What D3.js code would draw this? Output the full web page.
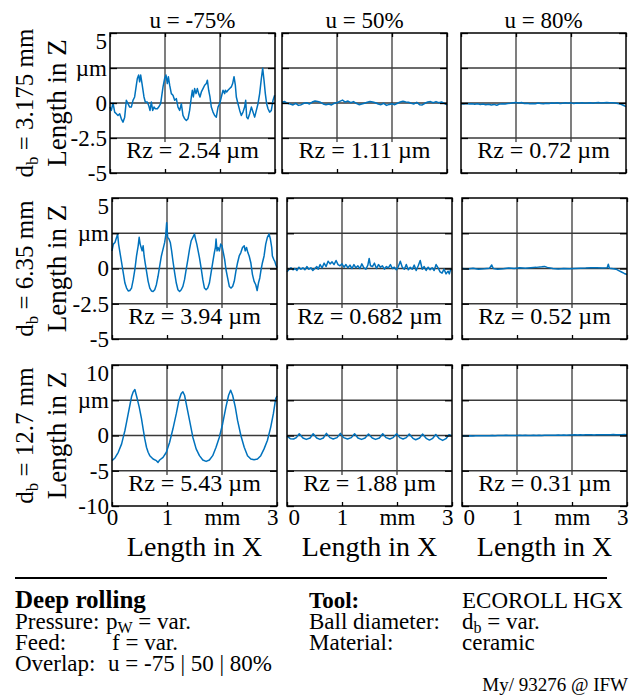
<!DOCTYPE html>
<html>
<head>
<meta charset="utf-8">
<script src="https://cdn.jsdelivr.net/npm/d3@7"></script>
<style>
  html, body { margin: 0; padding: 0; background: #fff; }
  svg { display: block; }
  svg text { font-family: "Liberation Serif", "Times New Roman", serif; }
</style>
</head>
<body>
<svg id="chart" width="637" height="695" font-family="Liberation Serif, Times New Roman, serif"></svg>
<script>
// ---- categories and axis settings ----
const overlapTitles = ["u = -75%", "u = 50%", "u = 80%"];
const ballDiameters = ["3.175", "6.35", "12.7"];
const rzLabels = [
  ["2.54", "1.11", "0.72"],
  ["3.94", "0.682", "0.52"],
  ["5.43", "1.88", "0.31"]
];
const yDomains = [[-5, 5], [-5, 5], [-10, 10]];
const yTickValues = [[-5, -2.5, 0, 2.5, 5], [-5, -2.5, 0, 2.5, 5], [-10, -5, 0, 5, 10]];
const yTickLabels = [["-5", "-2.5", "0", "µm", "5"], ["-5", "-2.5", "0", "µm", "5"], ["-10", "-5", "0", "µm", "10"]];
const xTickValues = [0, 1, 2, 3];
const xTickLabels = ["0", "1", "mm", "3"];

// shared sampling positions (mm) for the evenly sampled flat profiles
const sampleX = [0,0.05,0.1,0.15,0.2,0.25,0.3,0.35,0.4,0.45,0.5,0.55,0.6,0.65,0.7,0.75,0.8,0.85,0.9,0.95,
  1,1.05,1.1,1.15,1.2,1.25,1.3,1.35,1.4,1.45,1.5,1.55,1.6,1.65,1.7,1.75,1.8,1.85,1.9,1.95,
  2,2.05,2.1,2.15,2.2,2.25,2.3,2.35,2.4,2.45,2.5,2.55,2.6,2.65,2.7,2.75,2.8,2.85,2.9,2.95,3];

// ---- surface profiles [x in mm, z in µm] ----
const profileD3175U75 = [[0,-0.29],[0.024,-0.53],[0.055,0],[0.085,-0.65],[0.115,-0.77],[0.145,-0.89],[0.176,-0.77],[0.206,-1.13],[0.236,-1.37],[0.267,-1.01],[0.297,0.19],[0.327,-0.05],[0.358,-0.29],[0.388,-0.29],[0.418,0.19],[0.448,0.43],[0.479,1.27],[0.497,1.75],[0.521,2.0],[0.539,1.51],[0.558,2.0],[0.582,1.39],[0.618,0.43],[0.642,0.07],[0.679,0.07],[0.703,-0.17],[0.727,-0.53],[0.752,0.07],[0.776,-0.53],[0.8,-0.29],[0.824,-0.41],[0.861,-0.41],[0.885,-0.29],[0.921,-0.05],[0.964,1.15],[0.994,1.75],[1.018,2.0],[1.042,1.39],[1.061,1.88],[1.085,1.27],[1.115,0.67],[1.145,0.55],[1.176,0.19],[1.206,0.31],[1.236,-0.29],[1.267,-0.53],[1.297,-0.05],[1.327,-0.89],[1.358,-1.13],[1.388,-1.25],[1.418,-1.13],[1.448,-0.53],[1.479,0.43],[1.497,0.91],[1.515,0.43],[1.539,1.03],[1.564,0.67],[1.588,1.03],[1.612,0.67],[1.636,0.43],[1.661,0.79],[1.691,1.03],[1.721,1.27],[1.752,1.39],[1.77,1.63],[1.794,0.91],[1.818,0.43],[1.842,-0.29],[1.873,-0.65],[1.903,-0.89],[1.933,-1.01],[1.964,-0.29],[1.994,-0.05],[2.024,0.43],[2.055,0.91],[2.085,0.67],[2.097,0.91],[2.121,0.79],[2.145,0.91],[2.176,1.03],[2.206,1.15],[2.23,1.39],[2.255,1.88],[2.279,1.27],[2.297,0.43],[2.327,-0.05],[2.358,-0.53],[2.388,-0.89],[2.418,-0.65],[2.448,-0.29],[2.467,0.19],[2.485,-1.01],[2.509,-1.13],[2.539,-0.77],[2.57,-0.29],[2.6,-0.65],[2.63,-1.01],[2.661,-0.53],[2.691,-0.05],[2.721,0.67],[2.752,1.75],[2.776,2.48],[2.8,1.63],[2.824,0.67],[2.848,-0.05],[2.873,-0.41],[2.903,-0.65],[2.933,-0.53],[2.964,0.19],[2.994,0.55]];

const zD3175U50 = [0.05,0.10,-0.02,-0.07,-0.14,-0.02,-0.17,-0.12,-0.02,0.02,-0.07,0.07,0.14,0.10,0.05,-0.07,-0.12,-0.07,-0.14,-0.02,
  0.02,0.12,0.21,0.07,0.14,0.02,0.10,-0.02,-0.12,-0.07,-0.02,0.05,0.10,0.07,0.02,-0.07,-0.12,-0.02,-0.17,-0.10,
  -0.05,-0.12,-0.02,0.07,0.12,0.07,0.05,-0.02,-0.07,0.05,-0.12,-0.14,-0.02,0.07,0.10,0.02,0.10,0.02,0.07,-0.02,-0.14];

const zD3175U80 = [-0.05,-0.08,-0.04,-0.07,-0.05,-0.09,-0.06,-0.1,-0.07,-0.12,-0.09,-0.14,-0.1,-0.16,-0.08,-0.05,-0.07,-0.03,-0.02,0.02,
  0.03,0,0.03,-0.04,-0.02,-0.06,-0.03,-0.05,0,-0.03,-0.06,-0.02,-0.04,0,-0.02,0.02,-0.03,-0.01,0.01,-0.02,
  0.01,-0.03,0,-0.02,0.01,-0.02,0,0.02,-0.01,0.01,0.03,0,0.02,0.03,0.01,0.02,0,-0.03,-0.08,-0.16,-0.26];

const profileD635U75 = [[0,1.25],[0.024,1.73],[0.054,1.85],[0.084,2.21],[0.102,2.45],[0.12,1.73],[0.145,1.13],[0.175,0.41],[0.205,-0.31],[0.235,-1.03],[0.265,-1.39],[0.295,-1.59],[0.325,-1.56],[0.355,-1.39],[0.386,-0.79],[0.416,-0.07],[0.446,0.89],[0.476,1.61],[0.494,2.21],[0.512,1.73],[0.53,1.49],[0.548,1.25],[0.566,1.61],[0.584,0.89],[0.602,0.41],[0.627,-0.19],[0.657,-0.91],[0.687,-1.39],[0.717,-1.59],[0.747,-1.63],[0.777,-1.51],[0.807,-1.15],[0.837,-0.55],[0.867,0.17],[0.898,0.89],[0.928,1.37],[0.958,1.85],[0.976,2.33],[0.994,3.25],[1.012,2.21],[1.036,2.09],[1.06,1.85],[1.084,1.25],[1.108,0.53],[1.139,-0.31],[1.169,-1.03],[1.199,-1.51],[1.229,-1.63],[1.259,-1.51],[1.289,-1.27],[1.319,-0.79],[1.349,-0.07],[1.38,0.65],[1.41,1.37],[1.44,1.97],[1.47,2.21],[1.5,2.45],[1.518,2.09],[1.542,1.73],[1.566,1.25],[1.59,0.77],[1.62,0.05],[1.651,-0.79],[1.681,-1.39],[1.711,-1.51],[1.741,-1.39],[1.771,-1.03],[1.801,-0.31],[1.831,0.41],[1.861,1.13],[1.88,1.49],[1.892,2.09],[1.91,1.25],[1.928,1.49],[1.952,1.25],[1.976,1.73],[2.0,1.61],[2.024,1.13],[2.048,0.65],[2.072,-0.07],[2.102,-0.67],[2.133,-1.27],[2.163,-1.39],[2.193,-1.27],[2.223,-0.91],[2.253,-0.19],[2.283,0.41],[2.313,0.89],[2.343,1.13],[2.373,1.49],[2.404,1.61],[2.422,1.25],[2.446,1.49],[2.47,1.13],[2.494,0.89],[2.524,0.41],[2.554,-0.43],[2.584,-0.91],[2.614,-1.15],[2.639,-1.56],[2.663,-1.03],[2.687,-0.67],[2.711,-0.07],[2.735,0.41],[2.765,0.89],[2.795,1.73],[2.825,2.21],[2.855,2.45],[2.88,2.09],[2.904,1.49],[2.916,0.89],[2.94,0.65],[2.958,0.53],[2.976,0.29],[3.0,0.05]];

const profileD635U50 = [[0,-0.24],[0.036,-0.07],[0.072,0.05],[0.108,-0.09],[0.145,0],[0.181,-0.14],[0.217,0.09],[0.253,-0.05],[0.289,0.05],[0.325,-0.09],[0.361,0.14],[0.398,-0.05],[0.434,0.05],[0.47,-0.14],[0.506,0],[0.542,0.14],[0.566,-0.05],[0.602,0.28],[0.639,0.05],[0.675,0.38],[0.711,0.14],[0.747,0.52],[0.783,0.33],[0.819,0.47],[0.855,0.28],[0.892,0.57],[0.928,0.28],[0.964,0.19],[1.0,0.33],[1.036,0.09],[1.072,0.28],[1.108,0.05],[1.145,0.24],[1.181,0],[1.217,0.28],[1.253,0.05],[1.289,0.19],[1.325,0],[1.361,0.33],[1.398,0.05],[1.434,-0.05],[1.47,0.24],[1.494,0.71],[1.518,0.19],[1.554,0.14],[1.59,0.38],[1.627,0],[1.663,0.28],[1.699,0.09],[1.735,0.19],[1.771,-0.05],[1.807,0.14],[1.843,0.05],[1.88,0.28],[1.916,0],[1.952,0.09],[1.988,-0.09],[2.024,0.14],[2.06,0.52],[2.096,0.09],[2.133,-0.05],[2.169,0.28],[2.205,-0.09],[2.241,0.09],[2.277,-0.05],[2.313,0.24],[2.349,-0.14],[2.386,0.19],[2.422,0.57],[2.458,-0.05],[2.494,0.14],[2.53,-0.14],[2.566,0.09],[2.602,-0.09],[2.639,0.05],[2.675,-0.14],[2.711,0.28],[2.747,0.05],[2.783,-0.24],[2.819,-0.33],[2.855,-0.05],[2.892,-0.38],[2.928,-0.19],[2.952,-0.38],[2.976,-0.05],[3.0,-0.1]];

const profileD635U80 = [[0,0],[0.1,-0.03],[0.2,0.02],[0.3,-0.05],[0.4,-0.02],[0.5,0.02],[0.54,0.25],[0.57,0],[0.65,-0.05],[0.75,-0.02],[0.85,0.03],[0.95,0],[1.05,0.05],[1.15,0.02],[1.25,0.05],[1.35,0.08],[1.45,0.12],[1.5,0.15],[1.55,0.08],[1.65,0],[1.75,-0.03],[1.85,0],[1.95,-0.02],[2.05,0],[2.15,0.02],[2.25,0.03],[2.35,0.05],[2.45,0.05],[2.55,0.04],[2.64,0.06],[2.66,0.3],[2.68,0.02],[2.75,-0.02],[2.8,-0.05],[2.85,-0.15],[2.9,-0.25],[2.95,-0.35],[3.0,-0.42]];

const profileD127U75 = [[0,-3.57],[0.054,-3.19],[0.114,-2.38],[0.175,-1.19],[0.205,-0.24],[0.235,0.71],[0.265,1.9],[0.295,3.1],[0.325,4.29],[0.355,5.48],[0.386,6.19],[0.416,6.52],[0.434,5.95],[0.458,5.24],[0.494,4.05],[0.536,2.38],[0.566,0.95],[0.596,-0.48],[0.627,-1.67],[0.657,-2.38],[0.687,-2.86],[0.747,-3.33],[0.807,-3.57],[0.837,-3.81],[0.867,-3.48],[0.928,-3.1],[0.988,-2.38],[1.048,-0.95],[1.108,0.95],[1.169,3.1],[1.217,5.0],[1.259,5.95],[1.289,6.19],[1.319,5.71],[1.361,4.05],[1.41,2.14],[1.47,-0.24],[1.53,-1.9],[1.59,-2.86],[1.651,-3.48],[1.711,-3.67],[1.771,-3.48],[1.831,-2.86],[1.892,-1.67],[1.952,-0.24],[2.012,1.67],[2.072,4.05],[2.12,5.71],[2.157,6.43],[2.193,5.71],[2.241,4.05],[2.283,2.14],[2.343,0],[2.404,-1.67],[2.464,-2.86],[2.524,-3.33],[2.584,-3.43],[2.645,-3.33],[2.705,-2.86],[2.765,-1.9],[2.825,-0.71],[2.886,1.19],[2.934,3.1],[2.976,5.24],[3.0,5.6]];

const profileD127U50 = [[0,-0.1],[0.06,-0.45],[0.12,-0.5],[0.17,-0.3],[0.223,0.25],[0.29,-0.35],[0.35,-0.55],[0.42,-0.35],[0.476,0.25],[0.54,-0.35],[0.6,-0.55],[0.66,-0.35],[0.717,0.3],[0.78,-0.3],[0.84,-0.5],[0.91,-0.3],[0.97,0.3],[1.03,-0.3],[1.1,-0.5],[1.17,-0.3],[1.229,0.25],[1.29,-0.35],[1.355,-0.55],[1.42,-0.35],[1.482,0.2],[1.55,-0.35],[1.61,-0.55],[1.68,-0.35],[1.741,0.25],[1.8,-0.3],[1.87,-0.5],[1.93,-0.3],[1.994,0.25],[2.05,-0.3],[2.11,-0.5],[2.17,-0.3],[2.223,0.2],[2.29,-0.4],[2.34,-0.6],[2.41,-0.35],[2.464,0.2],[2.53,-0.4],[2.59,-0.65],[2.65,-0.4],[2.705,0.15],[2.77,-0.45],[2.83,-0.7],[2.89,-0.45],[2.946,0.1],[3.0,-0.05]];

const zD127U80 = [-0.08,-0.05,-0.07,-0.04,-0.06,-0.03,-0.05,-0.02,-0.04,-0.02,-0.03,0,-0.02,0.01,-0.01,0,0.02,-0.01,0.01,0,
  0,0.02,0,0.03,0.01,0,0.02,0.01,0.03,0,0.02,0.04,0.02,0.05,0.03,0.06,0.04,0.07,0.05,0.08,
  0.06,0.09,0.07,0.1,0.08,0.1,0.09,0.11,0.08,0.12,0.09,0.11,0.1,0.12,0.09,0.13,0.11,0.12,0.1,0.13,0.12];

const profiles = [
  [profileD3175U75, d3.zip(sampleX, zD3175U50), d3.zip(sampleX, zD3175U80)],
  [profileD635U75, profileD635U50, profileD635U80],
  [profileD127U75, profileD127U50, d3.zip(sampleX, zD127U80)]
];

// ---- layout ----
const serif = "Liberation Serif, Times New Roman, serif";
const rowTop = [33, 198, 365];
const rowHeight = [140, 141, 141];
const colLeft = [[110, 282, 461], [112, 287, 462], [112, 287, 462]];
const panelW = 165;
const lineColor = "#0072BD";
const gridColor = "#3a3a3a";

const svg = d3.select("#chart");

function rowLabel(g, x, y, diameter) {
  const t = g.append("text")
    .attr("transform", `translate(${x},${y}) rotate(-90)`)
    .attr("text-anchor", "middle")
    .attr("font-size", 25);
  t.append("tspan").text("d");
  t.append("tspan").attr("font-size", 17).attr("dy", 5).text("b");
  t.append("tspan").attr("dy", -5).text(` = ${diameter} mm`);
}

for (let r = 0; r < 3; r++) {
  const top = rowTop[r], h = rowHeight[r], bottom = top + h;
  const midY = top + h / 2;

  rowLabel(svg, 33, midY, ballDiameters[r]);
  svg.append("text")
    .attr("transform", `translate(66,${midY}) rotate(-90)`)
    .attr("text-anchor", "middle")
    .attr("font-size", 27)
    .text("Length in Z");

  for (let c = 0; c < 3; c++) {
    const left = colLeft[r][c], right = left + panelW;
    const x = d3.scaleLinear().domain([0, 3]).range([left, right]);
    const y = d3.scaleLinear().domain(yDomains[r]).range([bottom, top]);
    const g = svg.append("g");
    const boxTop = top + 0.78 * h;

    // grid lines
    g.selectAll("line.vgrid").data(xTickValues.slice(1, -1)).join("line")
      .attr("x1", d => x(d)).attr("x2", d => x(d))
      .attr("y1", top).attr("y2", boxTop)
      .attr("stroke", gridColor).attr("stroke-width", 1.3);
    g.selectAll("line.hgrid").data(yTickValues[r].slice(1, -1)).join("line")
      .attr("x1", left).attr("x2", right)
      .attr("y1", d => y(d)).attr("y2", d => y(d))
      .attr("stroke", gridColor).attr("stroke-width", 1.3);

    // measured profile
    g.append("path")
      .datum(profiles[r][c])
      .attr("fill", "none")
      .attr("stroke", lineColor)
      .attr("stroke-width", 1.5)
      .attr("stroke-linejoin", "round")
      .attr("d", d3.line().x(d => x(d[0])).y(d => y(d[1])));

    // Rz annotation on a white background
    g.append("rect")
      .attr("x", left).attr("y", boxTop)
      .attr("width", panelW).attr("height", bottom - boxTop)
      .attr("fill", "#fff");
    g.append("text")
      .attr("x", (left + right) / 2).attr("y", bottom - 15)
      .attr("text-anchor", "middle")
      .attr("font-size", 24)
      .text(`Rz = ${rzLabels[r][c]} µm`);

    // axes with inward ticks
    const axL = g.append("g").attr("transform", `translate(${left},0)`)
      .call(d3.axisLeft(y).tickValues(yTickValues[r]).tickSize(-7).tickPadding(3)
        .tickFormat((d, i) => c === 0 ? yTickLabels[r][i] : ""));
    const axR = g.append("g").attr("transform", `translate(${right},0)`)
      .call(d3.axisRight(y).tickValues(yTickValues[r]).tickSize(-7).tickFormat(""));
    const axB = g.append("g").attr("transform", `translate(0,${bottom})`)
      .call(d3.axisBottom(x).tickValues(xTickValues).tickSize(-4).tickPadding(3)
        .tickFormat((d, i) => r === 2 ? xTickLabels[i] : ""));
    const axT = g.append("g").attr("transform", `translate(0,${top})`)
      .call(d3.axisTop(x).tickValues(xTickValues).tickSize(-4).tickFormat(""));
    [axL, axR, axB, axT].forEach(a => {
      a.attr("font-family", serif).attr("font-size", 23);
      a.select(".domain").remove();
      a.selectAll(".tick line").attr("stroke", "#000").attr("stroke-width", 1.3);
      a.selectAll("text").attr("fill", "#000");
    });
    // top label sits inside the upper edge
    axL.selectAll(".tick").filter(d => d === yDomains[r][1])
      .select("text").attr("dy", null).attr("y", 15);
    if (r === 2) {
      axB.selectAll(".tick text").filter(d => d === 3).attr("text-anchor", "end").attr("x", 1);
      if (c > 0) axB.selectAll(".tick text").filter(d => d === 0).attr("text-anchor", "start").attr("x", 1);
    }

    // panel frame
    g.append("rect")
      .attr("x", left).attr("y", top).attr("width", panelW).attr("height", h)
      .attr("fill", "none").attr("stroke", "#000").attr("stroke-width", 1.5);

    if (r === 0) {
      svg.append("text")
        .attr("x", (left + right) / 2).attr("y", 28)
        .attr("text-anchor", "middle").attr("font-size", 23)
        .text(overlapTitles[c]);
    }
    if (r === 2) {
      svg.append("text")
        .attr("x", (left + right) / 2).attr("y", 556)
        .attr("text-anchor", "middle").attr("font-size", 28)
        .text("Length in X");
    }
  }
}

// ---- process description ----
svg.append("line").attr("x1", 15).attr("x2", 607).attr("y1", 578).attr("y2", 578)
  .attr("stroke", "#000").attr("stroke-width", 2);

const info = svg.append("g").attr("font-size", 23);
function infoText(x, y, parts, bold, size) {
  const t = info.append("text").attr("x", x).attr("y", y);
  if (bold) t.attr("font-weight", "bold");
  if (size) t.attr("font-size", size);
  parts.forEach(p => {
    const s = t.append("tspan").text(p.t);
    if (p.x !== undefined) s.attr("x", p.x);
    if (p.sub) s.attr("font-size", 16).attr("dy", 4);
    if (p.up) s.attr("dy", -4);
  });
}
infoText(15, 608, [{ t: "Deep rolling" }], true, 25);
infoText(15, 629, [{ t: "Pressure:" }, { t: "p", x: 106 }, { t: "W", sub: true }, { t: " = var.", up: true }]);
infoText(15, 650, [{ t: "Feed:" }, { t: "f", x: 112 }, { t: " = var." }]);
infoText(15, 671, [{ t: "Overlap:" }, { t: "u = -75 | 50 | 80%", x: 108 }]);
infoText(309, 608, [{ t: "Tool:" }], true);
infoText(462, 608, [{ t: "ECOROLL HGX" }]);
infoText(309, 629, [{ t: "Ball diameter:" }, { t: "d", x: 462 }, { t: "b", sub: true }, { t: " = var.", up: true }]);
infoText(309, 650, [{ t: "Material:" }, { t: "ceramic", x: 462 }]);
svg.append("text").attr("x", 628).attr("y", 691).attr("text-anchor", "end")
  .attr("font-size", 19).text("My/ 93276 @ IFW");
</script>
</body>
</html>
